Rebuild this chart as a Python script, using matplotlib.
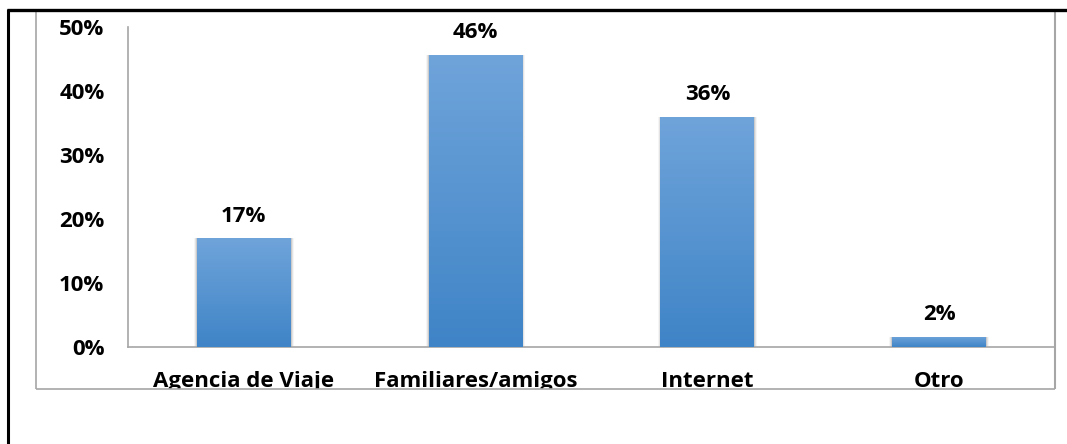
import numpy as np
import matplotlib
matplotlib.use("Agg")
import matplotlib.pyplot as plt
from matplotlib.patches import Rectangle
from matplotlib.lines import Line2D

categories = ["Agencia de Viaje", "Familiares/amigos", "Internet", "Otro"]
shares = [17.0, 45.6, 36.0, 1.6]
y_ticks = [0, 10, 20, 30, 40, 50]
y_tick_labels = ["0%", "10%", "20%", "30%", "40%", "50%"]

plt.rcParams["font.family"] = ["Open Sans", "DejaVu Sans"]
plt.rcParams["font.weight"] = "bold"
FS = 16

W, H = 1067, 444
fig = plt.figure(figsize=(W / 100, H / 100), dpi=100)
fig.patch.set_facecolor("white")

# plot area in pixel coordinates
ax = fig.add_axes([128 / W, (H - 347) / H, (1055 - 128) / W, (347 - 27) / H])

x = np.arange(len(categories))
bars = ax.bar(x, shares, width=0.405, color="none", edgecolor="none", zorder=3)

# vertical gradient fill + soft shadow for each bar
grad = np.linspace(0, 1, 256).reshape(-1, 1)
cmap = matplotlib.colors.LinearSegmentedColormap.from_list("bar", ["#3f84c7", "#6fa4da"])
for b in bars:
    x0, w, h = b.get_x(), b.get_width(), b.get_height()
    for k, a in enumerate([0.10, 0.07, 0.04]):
        ax.add_patch(Rectangle((x0 - 0.004 * (k + 1), -0.15 * (k + 1)), w + 0.008 * (k + 1),
                               h + 0.15 * (k + 1), facecolor="black", alpha=a,
                               edgecolor="none", zorder=2))
    im = ax.imshow(grad, extent=[x0, x0 + w, 0, h], origin="lower", cmap=cmap,
                   aspect="auto", zorder=3)
    im.set_clip_path(b)
    ax.annotate(f"{round(h)}%", (x0 + w / 2, h), xytext=(0, 12), textcoords="offset points",
                ha="center", va="baseline", fontsize=FS, fontweight="bold")

ax.set_xlim(-0.5, len(categories) - 0.5)
ax.set_ylim(0, 50)
ax.set_yticks(y_ticks)
ax.set_yticklabels(y_tick_labels, fontsize=FS, fontweight="bold")
ax.set_xticks(x)
ax.set_xticklabels(categories, fontsize=FS, fontweight="bold")
ax.tick_params(axis="y", length=0, pad=17)
ax.tick_params(axis="x", length=0, pad=17.5)

for side in ["top", "right"]:
    ax.spines[side].set_visible(False)
for side in ["left", "bottom"]:
    ax.spines[side].set_color("#a6a6a6")
    ax.spines[side].set_linewidth(1.2)

# labels under the chart frame get cut off
fig.add_artist(Rectangle((36 / W, 0), (1056 - 36) / W, (H - 389) / H,
                         transform=fig.transFigure, facecolor="white",
                         edgecolor="none", zorder=5))


def px_line(xs, ys, color, lw):
    fig.add_artist(Line2D([v / W for v in xs], [(H - v) / H for v in ys],
                          transform=fig.transFigure, color=color, lw=lw, zorder=6,
                          solid_capstyle="butt"))


# chart frame
px_line([36, 36], [10, 389], "#a6a6a6", 1.2)
px_line([1055, 1055], [10, 389], "#a6a6a6", 1.5)
px_line([36, 1055], [389, 389], "#a6a6a6", 1.2)
# outer black border
px_line([8, 8], [9, 444], "black", 2.2)
px_line([7, 1067], [10, 10], "black", 2.4)

fig.savefig("out.png", dpi=100)
